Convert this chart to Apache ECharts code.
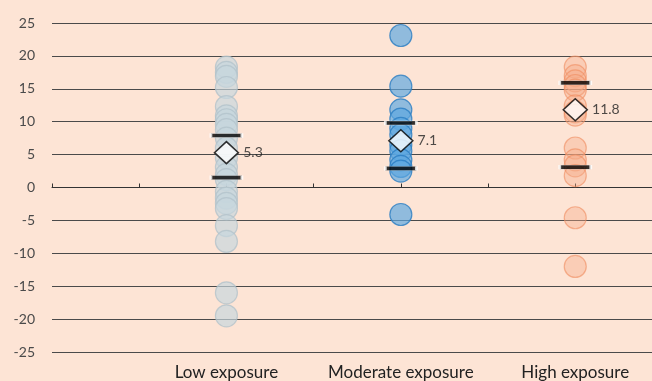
<!DOCTYPE html>
<html><head><meta charset="utf-8">
<script src="https://cdn.jsdelivr.net/npm/echarts@6/dist/echarts.min.js"></script>
<style>html,body{margin:0;padding:0;background:#fde4d5;}#c{width:652px;height:381px;}</style>
</head><body><div id="c"></div>
<script>
const categories = ['Low exposure', 'Moderate exposure', 'High exposure'];
const categoryPositions = [1, 2, 3];
const lowValues = [18.3, 17.5, 16.9, 15.2, 12.3, 10.9, 10.3, 9.6, 8.8, 7.5, 6.0, 4.5, 3.1, 2.0, 1.2, -0.6, -1.6, -2.4, -3.2, -5.8, -8.2, -16.0, -19.5];
const moderateValues = [23.1, 15.4, 11.8, 10.4, 9.0, 8.0, 6.5, 5.6, 4.2, 3.2, 2.5, -4.1];
const highValues = [18.3, 17.0, 16.2, 15.5, 14.8, 12.4, 11.5, 11.0, 6.0, 4.2, 3.3, 1.8, -4.6, -12.0];
const means = [5.3, 7.1, 11.8];
const upperBars = [7.9, 9.8, 15.9];
const lowerBars = [1.5, 2.9, 3.1];
const yMin = -25, yMax = 25, yStep = 5;

const groups = [lowValues, moderateValues, highValues];
const fills = ['rgba(198,214,222,0.85)', 'rgba(93,167,224,0.85)', 'rgba(245,170,135,0.5)'];
const borders = ['rgba(176,192,201,0.9)', '#2a7dc2', 'rgba(240,140,95,0.75)'];

const series = groups.map((vals, i) => ({
  type: 'scatter',
  xAxisIndex: 0,
  symbol: 'circle',
  symbolSize: 22,
  data: vals.map(v => [categoryPositions[i], v]),
  itemStyle: { color: fills[i], borderColor: borders[i], borderWidth: 1.2 },
  z: 2
}));
series.push({
  type: 'scatter', xAxisIndex: 0, symbol: 'rect', symbolSize: [31, 4],
  data: upperBars.map((v, i) => [categoryPositions[i], v]).concat(lowerBars.map((v, i) => [categoryPositions[i], v])),
  itemStyle: { color: '#000', borderColor: '#fff', borderWidth: 1 }, z: 3
});
series.push({
  type: 'scatter', xAxisIndex: 0, symbol: 'diamond', symbolSize: [24, 22],
  data: means.map((v, i) => [categoryPositions[i], v]),
  itemStyle: { color: '#fff', borderColor: '#000', borderWidth: 1.5 },
  label: { show: true, position: 'right', distance: 4, formatter: p => p.value[1].toFixed(1),
    color: '#222', fontSize: 14, fontFamily: 'Lato' },
  z: 4
});

const chart = echarts.init(document.getElementById('c'));
chart.setOption({
  backgroundColor: '#fde4d5',
  animation: false,
  grid: { left: 52, right: 0, top: 23, bottom: 29 },
  xAxis: [{
    type: 'value', min: 0, max: 3.44, interval: 1, position: 'bottom',
    axisLine: { show: false, onZero: false }, axisTick: { show: false }, splitLine: { show: false },
    axisLabel: { margin: 12, fontSize: 17, fontFamily: 'Lato', color: '#222',
      showMaxLabel: false,
      formatter: v => { const k = categoryPositions.indexOf(v); return k >= 0 ? categories[k] : ''; } }
  }, {
    type: 'value', min: 0, max: 3.44, interval: 0.5, position: 'bottom',
    axisLine: { show: true, onZero: true, lineStyle: { color: '#333', width: 1 } },
    axisTick: { show: true, inside: true, length: 4, lineStyle: { color: '#333' } },
    axisLabel: { show: false }, splitLine: { show: false }
  }],
  yAxis: {
    type: 'value', min: yMin, max: yMax, interval: yStep,
    axisLine: { show: false }, axisTick: { show: false },
    splitLine: { show: true, lineStyle: { color: '#4a4a4a', width: 1 } },
    axisLabel: { margin: 17, fontSize: 14, fontFamily: 'Lato', color: '#4a4a4a' }
  },
  series: series
});
</script></body></html>
